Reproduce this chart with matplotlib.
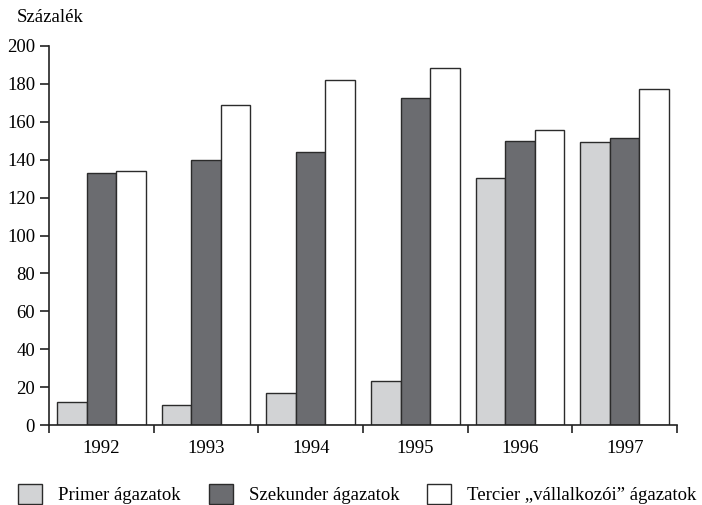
import matplotlib
matplotlib.use("Agg")
import matplotlib.pyplot as plt
import numpy as np

years = ["1992", "1993", "1994", "1995", "1996", "1997"]
primer = [12.3, 10.7, 17.0, 23.2, 130.4, 149.6]
szekunder = [133.0, 140.0, 143.8, 172.4, 149.8, 151.3]
tercier = [134.3, 169.0, 182.2, 188.2, 155.9, 177.2]
series_names = ["Primer ágazatok", "Szekunder ágazatok", "Tercier \u201evállalkozói\u201d ágazatok"]
colors = ["#d2d3d5", "#6b6c70", "#ffffff"]
yticks = [0, 20, 40, 60, 80, 100, 120, 140, 160, 180, 200]

plt.rcParams['font.family'] = ['Liberation Serif', 'DejaVu Serif']
fs = 13.5

fig = plt.figure(figsize=(7.02, 5.05), dpi=100)
ax = fig.add_axes([49/702, 1-425/505, (677-49)/702, (425-46)/505])

x = np.arange(len(years))
w = 30/106
for i, (vals, c, name) in enumerate(zip([primer, szekunder, tercier], colors, series_names)):
    ax.bar(x + (i-1)*w, vals, width=w, color=c, edgecolor="#2b2b2b", linewidth=1.0, label=name, zorder=2)

ax.set_xlim(-0.5, len(years)-0.5)
ax.set_ylim(0, 200)
ax.set_yticks(yticks)
ax.set_yticklabels([str(v) for v in yticks], fontsize=fs)
ax.set_xticks(np.arange(len(years)+1) - 0.5)
ax.set_xticklabels([])
ax.set_xticks(x, minor=True)
ax.set_xticklabels(years, minor=True, fontsize=fs)
ax.tick_params(axis='x', which='major', length=6, width=1.2, direction='out', color='#222')
ax.tick_params(axis='x', which='minor', length=0, pad=11)
ax.tick_params(axis='y', length=6.5, width=1.2, direction='out', color='#222', pad=3.5)
for s in ['top', 'right']:
    ax.spines[s].set_visible(False)
for s in ['left', 'bottom']:
    ax.spines[s].set_linewidth(1.2)
    ax.spines[s].set_color('#222')

fig.text(17/702, 1-18/505, "Százalék", fontsize=fs, va='center', ha='left')

fspx = fs * 100 / 72
leg = fig.legend(loc='center left', bbox_to_anchor=(18/702, 1-494/505), ncol=3, frameon=False,
                 fontsize=fs, handlelength=24/fspx, handleheight=24/fspx, handletextpad=16/fspx,
                 columnspacing=28/fspx, borderpad=0, borderaxespad=0)
for p in leg.get_patches():
    p.set_linewidth(1.0)

fig.savefig("out.png", dpi=100)
